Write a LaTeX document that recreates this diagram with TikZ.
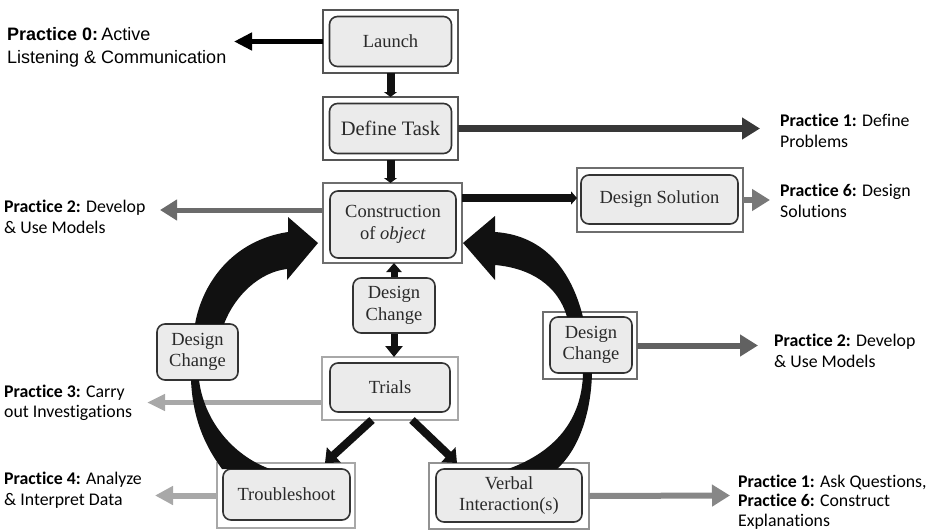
\documentclass[tikz,border=0pt]{standalone}
\usepackage{fontspec}
\setmainfont{Liberation Serif}
\newfontfamily\arialf{Liberation Sans}
\newfontfamily\calf[Ligatures=NoCommon]{Carlito}
\usetikzlibrary{arrows.meta,calc}
\definecolor{boxfill}{HTML}{EBEBEB}
\definecolor{boxline}{HTML}{333333}
\definecolor{boxtext}{HTML}{2A2A2A}
\definecolor{odark}{HTML}{555555}
\definecolor{omid}{HTML}{6E6E6E}
\definecolor{olight}{HTML}{A8A8A8}
\definecolor{omid2}{HTML}{929292}
\definecolor{band}{HTML}{111111}
\newcommand\bxfont{\fontsize{18.5}{21.5}\selectfont}
\newcommand\lblfont{\calf\fontsize{17.8}{20.5}\selectfont}
\newcommand\arfont{\arialf\fontsize{18}{23}\selectfont}
\begin{document}
\begin{tikzpicture}[x=1pt,y=-1pt,
  ob/.style={draw=#1, line width=2.5pt, fill=white, inner sep=0pt, outer sep=0pt},
  ib/.style={draw=boxline, fill=boxfill, line width=1.6pt, rounded corners=8pt,
             inner sep=0pt, align=center, font=\bxfont, text=boxtext},
  lbl/.style={anchor=west, align=left, inner sep=0pt, font=\lblfont, text=black},
  blk/.style={draw=band, line width=8pt},
  garrow/.style={draw=#1, line width=6pt, -{Triangle[length=18pt,width=21pt]}}
]
\useasboundingbox (0,0) rectangle (935,530);

% ---------- boxes ----------
\node[ob=odark, minimum width=135pt, minimum height=63pt] (launchO) at (390.5,41.5) {};
\node[ib, minimum width=122pt, minimum height=50pt] (launch) at (launchO) {Launch};

\node[ob=odark, minimum width=135pt, minimum height=63pt] (defineO) at (390.5,128.5) {};
\node[ib, minimum width=122pt, minimum height=50pt, font=\fontsize{20.5}{23}\selectfont] (define) at (defineO) {Define Task};

\node[ob=omid, minimum width=139pt, minimum height=80pt] (constrO) at (392.5,223) {};
\node[ib, minimum width=126pt, minimum height=67pt] (constr) at (393,224.5) {Construction\\of \textit{object}};

\node[ob=omid, minimum width=166pt, minimum height=64pt] (dsO) at (660,200) {};
\node[ib, minimum width=157pt, minimum height=49pt] (ds) at (659.5,199.5) {Design Solution};

\node[ib, minimum width=82pt, minimum height=55pt] (dcc) at (394,305.5) {Design\\Change};

\node[ob=olight, minimum width=136pt, minimum height=63pt] (trialsO) at (390,388.5) {};
\node[ib, minimum width=120pt, minimum height=49pt] (trials) at (390,387.5) {Trials};

\node[ib, minimum width=81pt, minimum height=56pt] (dcl) at (197.5,352) {Design\\Change};

\node[ob=omid, minimum width=94pt, minimum height=67pt] (dcrO) at (590,345.5) {};
\node[ib, minimum width=82pt, minimum height=56pt] (dcr) at (591,345) {Design\\Change};

\node[ob=olight, minimum width=138pt, minimum height=65pt] (troubleO) at (286,495.5) {};
\node[ib, minimum width=127pt, minimum height=51pt] (trouble) at (286.5,494.5) {Troubleshoot};

\node[ob=omid2, minimum width=160pt, minimum height=66pt] (verbalO) at (509,496) {};
\node[ib, minimum width=146pt, minimum height=53pt] (verbal) at (509,495.5) {Verbal\\Interaction(s)};

% ---------- labels ----------
\node[anchor=west, align=left, inner sep=0pt, font=\arfont] (p0) at (7,47)
  {\textbf{Practice 0:}\,Active\\Listening \& Communication};
\node[lbl] (p1) at (780,131) {\textbf{Practice 1:} Define\\Problems};
\node[lbl] (p2l) at (4,217) {\textbf{Practice 2:} Develop\\\& Use Models};
\node[lbl] (p6) at (780,201) {\textbf{Practice 6:} Design\\Solutions};
\node[lbl] (p2r) at (774,351) {\textbf{Practice 2:} Develop\\\& Use Models};
\node[lbl] (p3) at (4,403) {\textbf{Practice 3:} Carry\\out Investigations};
\node[lbl] (p4) at (4,490) {\textbf{Practice 4:} Analyze\\\& Interpret Data};
\node[lbl, font=\calf\fontsize{17.8}{19.2}\selectfont] (p16) at (738,502)
  {\textbf{Practice 1:} Ask Questions,\\\textbf{Practice 6:} Construct\\Explanations};

% ---------- tip coordinates ----------
\coordinate (t0) at (234,41.5);
\coordinate (t1) at (760,128.5);
\coordinate (t2l) at (160,210);
\coordinate (t6) at (770,200);
\coordinate (t2r) at (758,345.5);
\coordinate (t3) at (147,402.5);
\coordinate (t4) at (155,495.5);
\coordinate (t16) at (730,495.5);

% ---------- practice arrows ----------
\draw[draw=black, line width=5pt, -{Triangle[length=18pt,width=17pt]}] (launchO.west) -- (t0);
\draw[garrow=black!78, line width=7pt] (defineO.east) -- (t1);
\draw[garrow=black!58, line width=5pt, -{Triangle[length=17pt,width=20pt]}] ($(constrO.west)+(0,-13)$) -- (t2l);
\draw[garrow=black!53] (dsO.east) -- (t6);
\draw[garrow=black!62] (dcrO.east) -- (t2r);
\draw[garrow=olight, line width=5pt, -{Triangle[length=18pt,width=16pt]}] ($(trialsO.west)+(0,14)$) -- (t3);
\draw[garrow=olight, -{Triangle[length=18pt,width=18pt]}] (troubleO.west) -- (t4);
\draw[garrow=black!47] (verbalO.east) -- (t16);

% ---------- flow connectors ----------
\draw[blk, -{Triangle[length=5pt,width=13pt]}] (launchO.south) -- (defineO.north);
\draw[blk, -{Triangle[length=5pt,width=13pt]}] (defineO.south) -- (defineO.south |- constrO.north);
\draw[blk, -{Triangle[length=6pt,width=13pt]}] ($(constrO.east)+(0,-25)$) -- ($(dsO.west)+(0,-2)$);
\draw[blk, line width=7pt, -{Triangle[length=9pt,width=15pt]}] (dcc.north) -- (dcc.north |- constrO.south);
\draw[blk, line width=7pt, -{Triangle[length=11pt,width=17pt]}] (dcc.south) -- (dcc.south |- trialsO.north);
\draw[blk, -{Triangle[length=12pt,width=20pt]}] ($(trialsO.south)+(-18,0)$) -- ($(troubleO.north east)+(-30,0)$);
\draw[blk, -{Triangle[length=12pt,width=20pt]}] ($(trialsO.south)+(22,0)$) -- ($(verbalO.north west)+(28,0)$);

% ---------- big curved arrows ----------
\fill[band] (195,324) .. controls (203,280) and (235,240) .. (288,232)
  -- (288,217) -- (318,243) -- (287,280) -- (287,269)
  .. controls (260,272) and (235,295) .. (224,324) -- cycle;
\fill[band] (583,317) .. controls (570,265) and (540,235) .. (495,232)
  -- (495,216) -- (463,243) -- (495,280) -- (495,265)
  .. controls (530,268) and (558,285) .. (567,317) -- cycle;
\fill[band] (191,380) .. controls (193,428) and (212,455) .. (222,469)
  -- (270,469) .. controls (232,455) and (204,420) .. (199,380) -- cycle;
\fill[band] (583,373) .. controls (582,420) and (555,452) .. (508,469)
  -- (557,469) .. controls (578,450) and (591,415) .. (592,373) -- cycle;
\end{tikzpicture}
\end{document}
